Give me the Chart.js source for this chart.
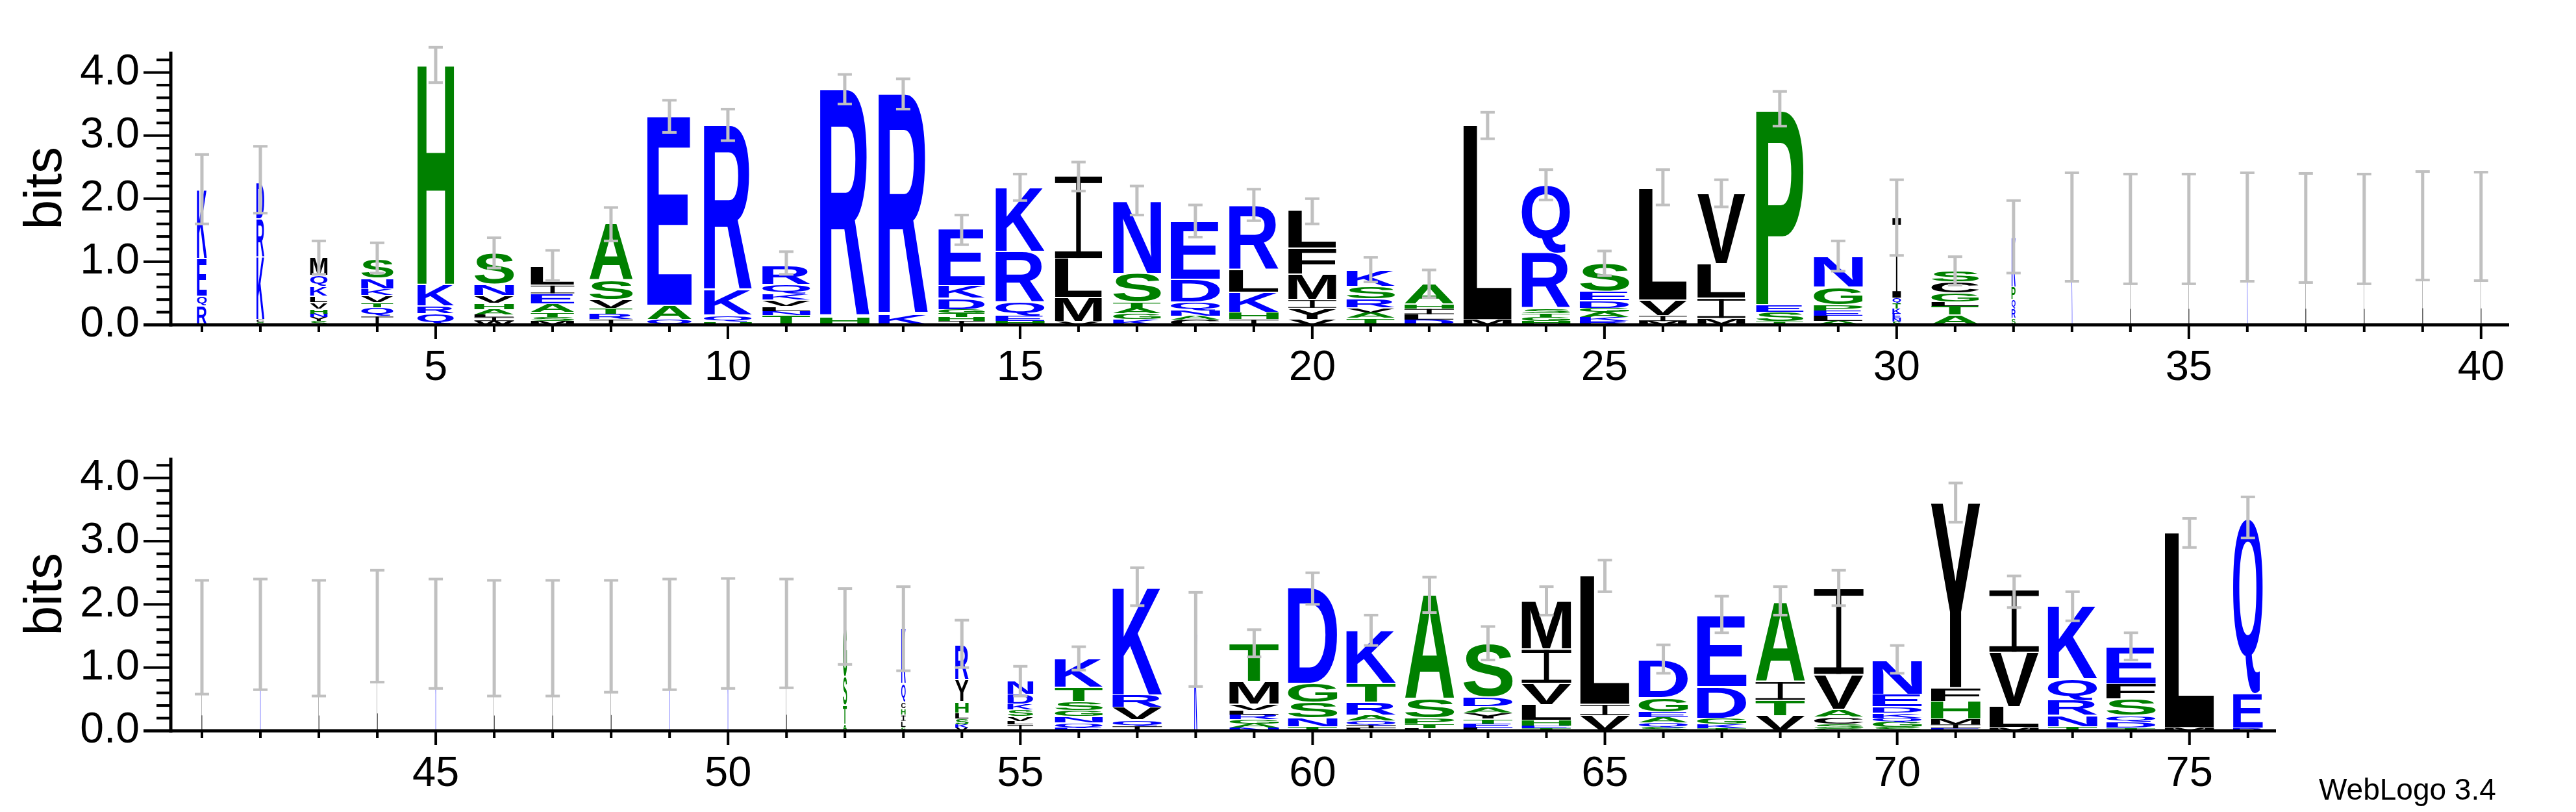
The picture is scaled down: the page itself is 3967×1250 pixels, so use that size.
<!DOCTYPE html>
<html>
<head>
<meta charset="utf-8">
<script src="https://cdn.jsdelivr.net/npm/chart.js@4.4.0/dist/chart.umd.min.js"></script>
<style>
  body { margin: 0; background: #fff; width: 3967px; height: 1250px; overflow: hidden; position: relative; }
  canvas { position: absolute; left: 0; }
  #c1 { top: 0; }
  #c2 { top: 625px; }
  #credit { position: absolute; left: 3571px; top: 1188px; font: 46px "Liberation Sans", Arial, sans-serif; color: #000; }
</style>
</head>
<body>
<canvas id="c1" width="3967" height="625"></canvas>
<canvas id="c2" width="3967" height="625"></canvas>
<div id="credit">WebLogo 3.4</div>
<script>
// sequence positions 1..76, letters listed bottom -> top
const positions = Array.from({ length: 76 }, (_, i) => i + 1);

const letters = [
  'RQEK', 'GCKRD', 'SYNHVLKQM', 'IQTVKNS', 'QRKH', 'WILAHVNS', 'MSTAEIL', 'IRTVSA', 'QAE', 'HQKR',
  'TNLVKQR', 'HR', 'KR', 'IHTGDKE', 'HEQRK', 'VMLI', 'KGATSN', 'CANQDE', 'IHKLR', 'VYIMFL',
  'TAVRSK', 'DLIHA', 'ML', 'HGTSRQ', 'RKAGDES', 'MIVL', 'MILV', 'TSEP', 'ALEPGN', 'SNEKTQI',
  'ATLGCS', 'SRQPK', 'K', 'L', 'L', 'K', 'L', 'L', 'L', 'L',
  'L', 'K', 'L', 'L', 'K', 'L', 'L', 'L', 'K', 'K',
  'L', 'ATSG', 'SLIHCQK', 'VKSLHYR', 'ILVSKDN', 'EQNGSTK', 'IQVRK', 'K', 'NAGRLVMT', 'TNSGD',
  'LIQARTK', 'LTPSA', 'LETYADS', 'TEHLVIM', 'VIL', 'SQAEGD', 'TKGDE', 'VTIA', 'GSCAVI', 'SGQKDEN',
  'EIMHFY', 'MLVI', 'TNRQK', 'TDQSFE', 'ML', 'REQ'
];

const heights = [
  [0.3, 0.15, 0.6, 1.1], [0.04, 0.04, 1.0, 0.6, 0.58], [0.06, 0.06, 0.06, 0.07, 0.1, 0.1, 0.15, 0.18, 0.28],
  [0.14, 0.14, 0.07, 0.11, 0.11, 0.17, 0.3], [0.17, 0.13, 0.34, 3.5], [0.06, 0.06, 0.04, 0.08, 0.1, 0.12, 0.18, 0.5],
  [0.06, 0.06, 0.07, 0.14, 0.16, 0.14, 0.3], [0.08, 0.1, 0.08, 0.14, 0.3, 0.9], [0.08, 0.23, 3.0],
  [0.04, 0.11, 0.4, 2.62], [0.15, 0.07, 0.07, 0.1, 0.1, 0.15, 0.3], [0.13, 3.61], [0.17, 3.5],
  [0.06, 0.06, 0.06, 0.06, 0.18, 0.2, 0.9], [0.06, 0.08, 0.22, 0.8, 1.01], [0.05, 0.38, 0.62, 1.31],
  [0.08, 0.1, 0.08, 0.1, 0.45, 1.15], [0.08, 0.06, 0.08, 0.14, 0.36, 0.92], [0.08, 0.12, 0.32, 0.36, 1.02],
  [0.08, 0.18, 0.14, 0.4, 0.42, 0.6], [0.1, 0.1, 0.07, 0.14, 0.2, 0.26], [0.08, 0.08, 0.1, 0.07, 0.32],
  [0.08, 3.09], [0.06, 0.06, 0.05, 0.09, 0.88, 1.08], [0.06, 0.06, 0.08, 0.06, 0.12, 0.15, 0.44],
  [0.06, 0.08, 0.25, 1.78], [0.1, 0.32, 0.55, 1.12], [0.05, 0.15, 0.12, 3.1], [0.06, 0.08, 0.08, 0.1, 0.28, 0.48],
  [0.05, 0.05, 0.08, 0.08, 0.08, 0.08, 1.28], [0.15, 0.15, 0.06, 0.14, 0.18, 0.18], [0.1, 0.15, 0.15, 0.2, 0.79],
  [1.56], [1.52], [1.52], [1.56], [1.54], [1.52], [1.58], [1.56],
  [1.47], [1.52], [1.46], [1.67], [1.55], [1.46], [1.46], [1.49], [1.52], [1.55],
  [1.53], [0.1, 0.3, 0.45, 0.8], [0.05, 0.1, 0.1, 0.1, 0.1, 0.3, 0.88], [0.05, 0.05, 0.08, 0.1, 0.18, 0.35, 0.55],
  [0.1, 0.05, 0.07, 0.12, 0.08, 0.16, 0.22], [0.05, 0.07, 0.1, 0.1, 0.14, 0.23, 0.45], [0.07, 0.1, 0.2, 0.2, 1.7],
  [1.55], [0.05, 0.06, 0.07, 0.08, 0.06, 0.1, 0.36, 0.6], [0.06, 0.14, 0.25, 0.3, 1.52],
  [0.04, 0.05, 0.06, 0.1, 0.2, 0.3, 0.84], [0.04, 0.06, 0.1, 0.3, 1.65], [0.05, 0.06, 0.07, 0.1, 0.1, 0.15, 0.85],
  [0.04, 0.04, 0.08, 0.25, 0.34, 0.54, 0.76], [0.24, 0.18, 2.04], [0.06, 0.06, 0.1, 0.08, 0.22, 0.6],
  [0.04, 0.06, 0.1, 0.5, 1.12], [0.24, 0.24, 0.3, 1.25], [0.04, 0.06, 0.12, 0.12, 0.55, 1.36],
  [0.06, 0.08, 0.07, 0.07, 0.1, 0.2, 0.54], [0.04, 0.06, 0.08, 0.28, 0.22, 2.93], [0.05, 0.33, 0.86, 0.99],
  [0.06, 0.18, 0.24, 0.34, 1.16], [0.04, 0.1, 0.1, 0.26, 0.24, 0.58], [0.05, 3.09], [0.04, 0.55, 2.78]
];

// fraction of the column width used by each stack (gap weighting)
const widths = [
  0.2, 0.16, 0.35, 0.65, 0.74, 0.8, 0.88, 0.88, 0.9, 0.97,
  0.97, 1, 1, 0.94, 0.99, 0.95, 0.97, 1, 1, 0.97,
  0.98, 1, 0.98, 0.98, 1, 0.97, 0.97, 0.96, 0.99, 0.17,
  0.96, 0.08, 0.012, 0.012, 0.012, 0.012, 0.012, 0.012, 0.012, 0.012,
  0.012, 0.012, 0.012, 0.012, 0.012, 0.012, 0.012, 0.012, 0.012, 0.012,
  0.012, 0.08, 0.09, 0.27, 0.52, 0.97, 1, 0.06, 1, 1,
  1, 1, 1, 1, 1, 1, 1, 1, 1, 1,
  1, 1, 1, 1, 1, 0.6
];

const errLow = [
  1.6, 1.77, 0.8, 0.82, 3.84, 0.9, 0.7, 1.33, 3.05, 2.92,
  0.8, 3.5, 3.42, 1.27, 1.97, 2.12, 1.74, 1.39, 1.65, 1.6,
  0.68, 0.43, 2.95, 1.98, 0.78, 1.9, 1.87, 3.15, 0.85, 1.1,
  0.63, 0.82, 0.69, 0.65, 0.65, 0.69, 0.67, 0.65, 0.71, 0.7,
  0.58, 0.65, 0.55, 0.77, 0.67, 0.55, 0.55, 0.61, 0.65, 0.67,
  0.68, 1.05, 0.95, 1.0, 0.55, 0.96, 1.98, 0.7, 1.17, 2.0,
  1.35, 1.87, 1.12, 1.83, 2.2, 0.91, 1.55, 1.83, 1.98, 0.91,
  3.3, 1.95, 1.74, 1.12, 2.9, 3.05
];

const errHigh = [
  2.7, 2.83, 1.33, 1.3, 4.4, 1.38, 1.18, 1.86, 3.56, 3.42,
  1.16, 3.97, 3.9, 1.74, 2.39, 2.58, 2.2, 1.9, 2.15, 2.0,
  1.07, 0.87, 3.37, 2.46, 1.17, 2.46, 2.3, 3.7, 1.33, 2.3,
  1.08, 1.97, 2.41, 2.39, 2.39, 2.41, 2.4, 2.39, 2.43, 2.42,
  2.38, 2.4, 2.38, 2.54, 2.4, 2.38, 2.38, 2.38, 2.4, 2.41,
  2.4, 2.25, 2.28, 1.75, 1.02, 1.33, 2.58, 2.19, 1.6, 2.5,
  1.83, 2.43, 1.65, 2.28, 2.7, 1.36, 2.13, 2.28, 2.54, 1.35,
  3.92, 2.45, 2.2, 1.55, 3.36, 3.7
];

const yTickLabels = ['0.0', '1.0', '2.0', '3.0', '4.0'];

const BLUE = '#0000ff', GREEN = '#008000', BLACK = '#000000';
function letterColor(ch) {
  if ('KRDEQN'.includes(ch)) return BLUE;
  if ('GSTAHP'.includes(ch)) return GREEN;
  return BLACK;
}

const FONT = '"Liberation Sans", Arial, sans-serif';
const glyphCache = {};
function glyphMetrics(ctx, ch) {
  if (!glyphCache[ch]) {
    ctx.save();
    ctx.font = 'bold 200px ' + FONT;
    const m = ctx.measureText(ch);
    ctx.restore();
    glyphCache[ch] = {
      left: m.actualBoundingBoxLeft, w: m.actualBoundingBoxLeft + m.actualBoundingBoxRight,
      asc: m.actualBoundingBoxAscent, h: m.actualBoundingBoxAscent + m.actualBoundingBoxDescent
    };
  }
  return glyphCache[ch];
}

function drawLetter(ctx, ch, x, y, w, h) {
  ctx.fillStyle = letterColor(ch);
  if (ch === 'I') {
    // serif I as drawn by WebLogo
    const bar = Math.max(1, Math.min(h * 0.09, 10));
    const stem = Math.max(2, w * 0.1);
    ctx.fillRect(x, y, w, bar);
    ctx.fillRect(x, y + h - bar, w, bar);
    ctx.fillRect(x + (w - stem) / 2, y, stem, h);
    return;
  }
  const g = glyphMetrics(ctx, ch);
  ctx.save();
  ctx.font = 'bold 200px ' + FONT;
  ctx.translate(x, y);
  ctx.scale(w / g.w, h / g.h);
  ctx.fillText(ch, g.left, g.asc);
  ctx.restore();
}

// draws the letter stacks, error bars and axis ticks from the chart scales
const logoPlugin = {
  id: 'logo',
  afterDatasetsDraw(chart) {
    const ctx = chart.ctx;
    const xs = chart.scales.x, ys = chart.scales.y;
    const area = chart.chartArea;
    const unit = xs.getPixelForValue(2) - xs.getPixelForValue(1);

    chart.data.datasets[0].data.forEach(pt => {
      const i = pt.i;
      const cx = xs.getPixelForValue(positions[i]);
      const w = Math.max(unit * 0.845 * widths[i], 1);
      let acc = 0;
      for (let k = 0; k < letters[i].length; k++) {
        const y0 = ys.getPixelForValue(acc);
        acc += heights[i][k];
        const y1 = ys.getPixelForValue(acc);
        const h = y0 - y1;
        if (h < 0.6) continue;
        const pad = h > 8 ? 1 : 0;
        drawLetter(ctx, letters[i][k], cx - w / 2, y1 + pad, w, h - 2 * pad);
      }
    });

    // error bars
    ctx.save();
    ctx.fillStyle = '#c0c0c0';
    chart.data.datasets[0].data.forEach(pt => {
      const i = pt.i;
      const cx = xs.getPixelForValue(positions[i]);
      const lo = ys.getPixelForValue(errLow[i]), hi = ys.getPixelForValue(errHigh[i]);
      ctx.fillRect(cx - 2.5, hi, 5, lo - hi);
      ctx.fillRect(cx - 11, lo - 2, 22, 4);
      ctx.fillRect(cx - 11, hi - 2, 22, 4);
    });

    // axes
    ctx.fillStyle = '#000';
    const y0 = ys.getPixelForValue(0);
    ctx.fillRect(area.left - 2.5, area.top, 5, y0 - area.top + 2.5);
    ctx.fillRect(area.left - 42, y0 - 2.5, area.right - area.left + 42, 5);
    for (let t = 0; t <= 21; t++) {
      const y = ys.getPixelForValue(t * 0.2);
      const len = t % 5 === 0 ? 42 : 22;
      ctx.fillRect(area.left - len, y - 2, len, 4);
    }
    for (let p = Math.ceil(xs.min); p <= xs.max; p++) {
      const x = xs.getPixelForValue(p);
      const len = p % 5 === 0 ? 22 : 11;
      ctx.fillRect(x - 2, y0, 4, len);
    }
    ctx.restore();
  }
};

function makeLogo(canvasId, first, last, xMin, xMax, padTop, padRight, yMax) {
  const idx = positions.map((p, i) => i).filter(i => positions[i] >= first && positions[i] <= last);
  const pts = idx.map(i => ({ x: positions[i], y: heights[i].reduce((a, b) => a + b, 0), i }));
  return new Chart(document.getElementById(canvasId), {
    type: 'scatter',
    data: { datasets: [{ data: pts, pointRadius: 0, showLine: false }] },
    options: {
      responsive: false,
      animation: false,
      devicePixelRatio: 1,
      layout: { padding: { top: padTop, right: padRight, left: 0, bottom: 0 } },
      plugins: { legend: { display: false }, tooltip: { enabled: false } },
      scales: {
        x: {
          type: 'linear', min: xMin, max: xMax,
          grid: { display: false }, border: { display: false },
          afterFit: s => { s.height = 125; },
          afterBuildTicks: s => { s.ticks = idx.map(i => ({ value: positions[i] })); },
          ticks: {
            autoSkip: false, maxRotation: 0, padding: 20,
            color: '#000', font: { size: 65, family: FONT },
            callback: v => (Math.round(v) % 5 === 0) ? String(Math.round(v)) : ''
          }
        },
        y: {
          min: 0, max: yMax,
          grid: { display: false }, border: { display: false },
          afterFit: s => { s.width = 263; },
          afterBuildTicks: s => { s.ticks = yTickLabels.map((t, k) => ({ value: k })); },
          title: { display: true, text: 'bits', color: '#000', font: { size: 82, family: FONT }, padding: { top: 22, bottom: 0 } },
          ticks: {
            autoSkip: false, padding: 40, color: '#000', font: { size: 66, family: FONT },
            callback: v => yTickLabels[Math.round(v)]
          }
        }
      }
    },
    plugins: [logoPlugin]
  });
}

makeLogo('c1', 1, 40, 0.467, 40.48, 50, 103, 4.33);
makeLogo('c2', 41, 76, 40.467, 76.48, 8, 462, 4.32);
</script>
</body>
</html>
